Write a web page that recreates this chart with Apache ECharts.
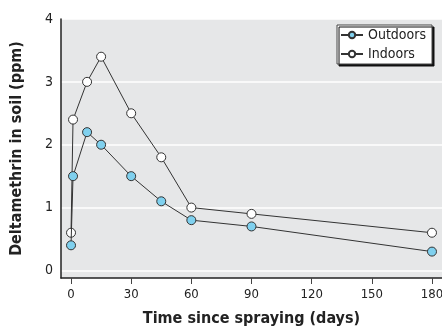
<!DOCTYPE html>
<html>
<head>
<meta charset="utf-8">
<script src="https://cdn.jsdelivr.net/npm/echarts@6/dist/echarts.min.js"></script>
<style>
  html, body { margin: 0; padding: 0; background: #fff; }
  #chart { width: 442px; height: 331px; }
</style>
</head>
<body>
<div id="chart"></div>
<script>
// days since spraying
const days = [0, 1, 8, 15, 30, 45, 60, 90, 180];
const outdoors = [0.4, 1.5, 2.2, 2.0, 1.5, 1.1, 0.8, 0.7, 0.3];
const indoors = [0.6, 2.4, 3.0, 3.4, 2.5, 1.8, 1.0, 0.9, 0.6];
const xTicks = [0, 30, 60, 90, 120, 150, 180];
const yTicks = [0, 1, 2, 3, 4];

const font = '"Liberation Sans Narrow", "DejaVu Sans Condensed", sans-serif';
const lineColor = '#333333';
const outdoorFill = '#7fd0ee';

const chart = echarts.init(document.getElementById('chart'), null, { renderer: 'canvas' });

const pairs = (ys) => days.map((d, i) => [d, ys[i]]);

chart.setOption({
  animation: false,
  backgroundColor: '#ffffff',
  textStyle: { fontFamily: font },
  grid: {
    left: 61, top: 19, right: 0, bottom: 53,
    outerBoundsMode: 'none', containLabel: false,
    show: true, backgroundColor: '#e6e7e8', borderWidth: 0
  },
  legend: {
    right: 10, top: 25,
    orient: 'vertical',
    itemWidth: 22, itemHeight: 8, itemGap: 5,
    padding: [3, 6, 3, 3],
    backgroundColor: '#ffffff',
    borderColor: '#444444', borderWidth: 1,
    shadowColor: '#111111', shadowBlur: 0, shadowOffsetX: 2, shadowOffsetY: 2,
    textStyle: { fontFamily: font, fontSize: 14, color: '#222' },
    data: ['Outdoors', 'Indoors']
  },
  xAxis: {
    type: 'value',
    min: -5, max: 185,
    name: 'Time since spraying (days)',
    nameLocation: 'middle', nameGap: 33,
    nameTextStyle: { fontFamily: font, fontSize: 16, fontWeight: 'bold', color: '#222' },
    axisLine: { onZero: false, lineStyle: { color: '#222', width: 1.5 } },
    axisTick: { show: true, customValues: xTicks, length: 6, lineStyle: { color: '#444' } },
    axisLabel: { customValues: xTicks, fontFamily: font, fontSize: 13, color: '#222', margin: 10 },
    splitLine: { show: false }
  },
  yAxis: {
    type: 'value',
    min: -0.12, max: 4,
    name: 'Deltamethrin in soil (ppm)',
    nameLocation: 'middle', nameGap: 36, nameRotate: 90,
    nameTextStyle: { fontFamily: font, fontSize: 16, fontWeight: 'bold', color: '#222' },
    axisLine: { show: true, onZero: false, lineStyle: { color: '#222', width: 1.5 } },
    axisTick: { show: false, customValues: yTicks },
    axisLabel: { customValues: yTicks, fontFamily: font, fontSize: 14, color: '#222', margin: 8 },
    splitLine: { show: true, lineStyle: { color: '#ffffff', width: 1.5 } }
  },
  series: [
    {
      name: 'Outdoors', type: 'line', data: pairs(outdoors),
      symbol: 'circle', symbolSize: 9,
      lineStyle: { color: lineColor, width: 1 },
      itemStyle: { color: outdoorFill, borderColor: lineColor, borderWidth: 1 },
      z: 3
    },
    {
      name: 'Indoors', type: 'line', data: pairs(indoors),
      symbol: 'circle', symbolSize: 9,
      lineStyle: { color: lineColor, width: 1 },
      itemStyle: { color: '#ffffff', borderColor: lineColor, borderWidth: 1 },
      z: 2
    }
  ]
});
</script>
</body>
</html>
